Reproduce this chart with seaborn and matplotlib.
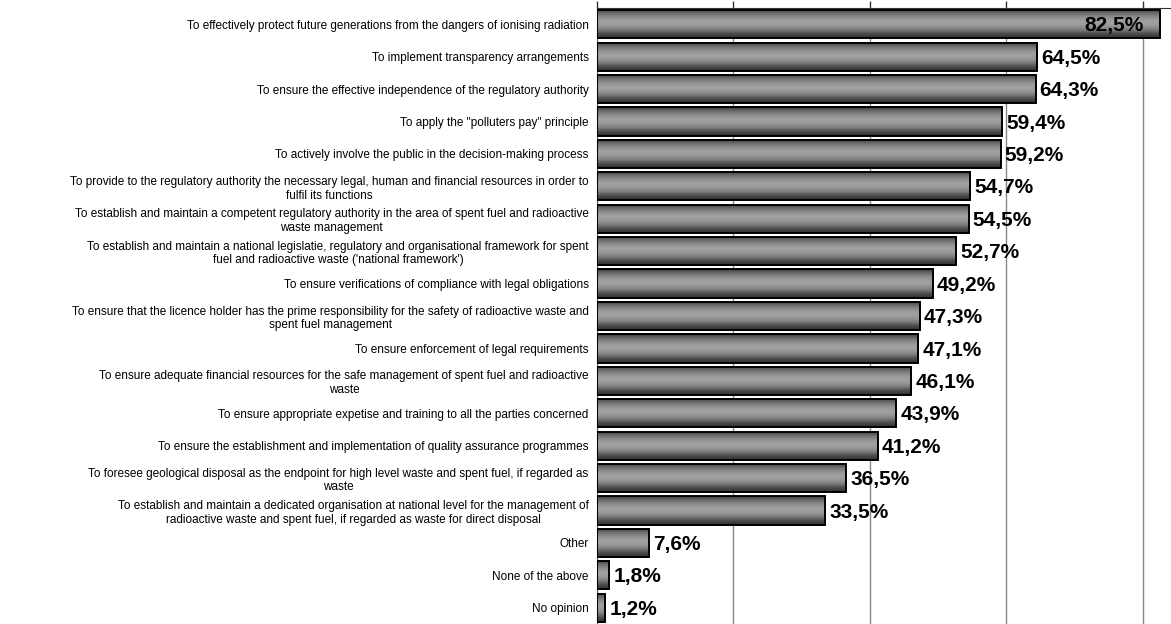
import numpy as np
import pandas as pd
import matplotlib
matplotlib.use("Agg")
import matplotlib.pyplot as plt
from matplotlib.colors import LinearSegmentedColormap
from matplotlib.ticker import MultipleLocator
import seaborn as sns

# --- data ---
categories = [
    "To effectively protect future generations from the dangers of ionising radiation",
    "To implement transparency arrangements",
    "To ensure the effective independence of the regulatory authority",
    "To apply the \"polluters pay\" principle",
    "To actively involve the public in the decision-making process",
    "To provide to the regulatory authority the necessary legal, human and financial resources in order to\nfulfil its functions",
    "To establish and maintain a competent regulatory authority in the area of spent fuel and radioactive\nwaste management",
    "To establish and maintain a national legislatie, regulatory and organisational framework for spent\nfuel and radioactive waste ('national framework')",
    "To ensure verifications of compliance with legal obligations",
    "To ensure that the licence holder has the prime responsibility for the safety of radioactive waste and\nspent fuel management",
    "To ensure enforcement of legal requirements",
    "To ensure adequate financial resources for the safe management of spent fuel and radioactive\nwaste",
    "To ensure appropriate expetise and training to all the parties concerned",
    "To ensure the establishment and implementation of quality assurance programmes",
    "To foresee geological disposal as the endpoint for high level waste and spent fuel, if regarded as\nwaste",
    "To establish and maintain a dedicated organisation at national level for the management of\nradioactive waste and spent fuel, if regarded as waste for direct disposal",
    "Other",
    "None of the above",
    "No opinion",
]
values = [82.5, 64.5, 64.3, 59.4, 59.2, 54.7, 54.5, 52.7, 49.2, 47.3,
          47.1, 46.1, 43.9, 41.2, 36.5, 33.5, 7.6, 1.8, 1.2]

df = pd.DataFrame({"item": categories, "share": values})

sns.set_style("white")
plt.rcParams["font.family"] = ["Liberation Sans", "DejaVu Sans"]
plt.rcParams["text.color"] = "black"
plt.rcParams["ytick.color"] = "black"
plt.rcParams["ytick.labelcolor"] = "black"

W, H = 1171, 624
fig = plt.figure(figsize=(W / 100, H / 100), dpi=100)
ax = fig.add_axes([597 / W, 0, (W - 597) / W, (H - 8) / H])

sns.barplot(data=df, x="share", y="item", orient="h", width=0.87,
            color="#8c8c8c", edgecolor="black", linewidth=1.4, ax=ax, zorder=3)

# shaded (cylinder-like) fill clipped to each bar
shade = LinearSegmentedColormap.from_list(
    "shade", ["#3c3c3c", "#6e6e6e", "#909090", "#a2a2a2", "#9a9a9a",
              "#7c7c7c", "#4c4c4c", "#303030"])
grad = np.linspace(0, 1, 64).reshape(-1, 1)
for bar in ax.patches:
    x0, y0 = bar.get_x(), bar.get_y()
    w, h = bar.get_width(), bar.get_height()
    im = ax.imshow(grad, extent=[x0, x0 + w, y0 + h, y0], cmap=shade,
                   aspect="auto", zorder=3.5, interpolation="bicubic")
    im.set_clip_path(bar)
    bar.set_facecolor("none")
    bar.set_zorder(4)

xmax = (W - 597) / 6.82
ax.set_xlim(0, xmax)
ax.set_ylim(len(categories) - 0.5, -0.5)

# value labels
for i, v in enumerate(values):
    txt = f"{v:.1f}%".replace(".", ",")
    if v > 80:
        ax.text(v - 2.3, i + 0.05, txt, ha="right", va="center", color="black",
                fontsize=15, fontweight="bold", zorder=5)
    else:
        ax.text(v + 0.6, i + 0.05, txt, ha="left", va="center", color="black",
                fontsize=15, fontweight="bold", zorder=5)

# axes styling
ax.xaxis.tick_top()
ax.xaxis.set_major_locator(MultipleLocator(20))
ax.set_xticklabels([])
ax.tick_params(axis="x", which="major", direction="out", length=5,
               color="#333333", width=1)
ax.grid(axis="x", color="#888888", linewidth=1, zorder=0)
ax.set_axisbelow(True)

ax.set_yticks(range(len(categories)))
ax.set_yticklabels(categories, fontsize=8.5, multialignment="center")
ax.tick_params(axis="y", which="major", length=0, pad=6)
ax.set_yticks(np.arange(len(categories) + 1) - 0.5, minor=True)
ax.tick_params(axis="y", which="minor", direction="out", length=5,
               color="#222222", width=1)

ax.set_xlabel("")
ax.set_ylabel("")
for side in ["right", "bottom"]:
    ax.spines[side].set_visible(False)
ax.spines["top"].set_color("#333333")
ax.spines["left"].set_color("#666666")

fig.savefig("out.png", dpi=100)
